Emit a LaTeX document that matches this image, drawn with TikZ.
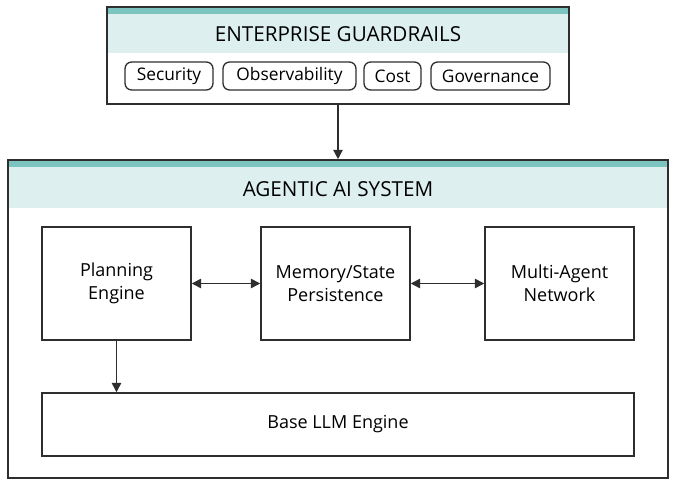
\documentclass[tikz,border=0pt]{standalone}
\usepackage{fontspec}
\setmainfont{Open Sans}
\usetikzlibrary{calc}
\usetikzlibrary{arrows.meta}
\definecolor{tealband}{HTML}{7CC4C0}
\definecolor{tealhead}{HTML}{DDF0EF}
\definecolor{edge}{HTML}{2E2E2E}
\tikzset{
	panelstyle/.style={rectangle,draw=edge,line width=1.2pt},
	tagstyle/.style={rectangle,rounded corners=5pt,draw=edge,line width=1pt,minimum height=21pt,inner sep=0pt,font=\fontsize{13}{14}\selectfont},
	blockstyle/.style={rectangle,draw=edge,line width=1.1pt,fill=white,minimum width=111.75pt,minimum height=84.75pt,align=center,font=\fontsize{13.5}{17}\selectfont},
	headstyle/.style={font=\fontsize{15.5}{18}\selectfont},
	linkstyle/.style={line width=1.1pt,draw=edge,arrows={-Triangle[length=7pt,width=7pt]}}
}
\begin{document}
\begin{tikzpicture}[x=0.75pt,y=-0.75pt]
		\useasboundingbox (0,0) rectangle (679,484);
		\fill[tealhead] (107,7) rectangle (569,53);
		\fill[tealband] (107,7) rectangle (569,14);
		\fill[tealhead] (8,160) rectangle (668,208);
		\fill[tealband] (8,160) rectangle (668,167);
		\node[panelstyle,minimum width=346.5pt,minimum height=72.75pt] (guard) at (338,55.5) {};
		\node[panelstyle,minimum width=495pt,minimum height=238.5pt] (system) at (338,319) {};
		\node[headstyle] (guardtitle) at (338,34) {ENTERPRISE GUARDRAILS};
		\node[headstyle] (systemtitle) at (338,189) {AGENTIC AI SYSTEM};
		\node[tagstyle,minimum width=66pt] (security) at (169,76) {Security};
		\node[tagstyle,minimum width=99.75pt] (observe) at (289.5,76) {Observability};
		\node[tagstyle,minimum width=42.75pt] (cost) at (392.5,76) {Cost};
		\node[tagstyle,minimum width=89.25pt] (govern) at (490.5,76) {Governance};
		\node[blockstyle] (planning) at (116.5,283.5) {Planning\\Engine};
		\node[blockstyle] (memory) at (335.5,283.5) {Memory/State\\Persistence};
		\node[blockstyle] (multi) at (559.5,283.5) {Multi-Agent\\Network};
		\node[blockstyle,minimum width=444pt,minimum height=47.25pt] (base) at (338,424.5) {Base LLM Engine};
		\draw[linkstyle] (guard.south) -- (system.north);
		\draw[linkstyle,arrows={Triangle[length=7pt,width=7pt]-Triangle[length=7pt,width=7pt]}] (planning.east) -- (memory.west);
		\draw[linkstyle,arrows={Triangle[length=7pt,width=7pt]-Triangle[length=7pt,width=7pt]}] (memory.east) -- (multi.west);
		\draw[linkstyle] (planning.south) -- (planning.south |- base.north);
\end{tikzpicture}
\end{document}
